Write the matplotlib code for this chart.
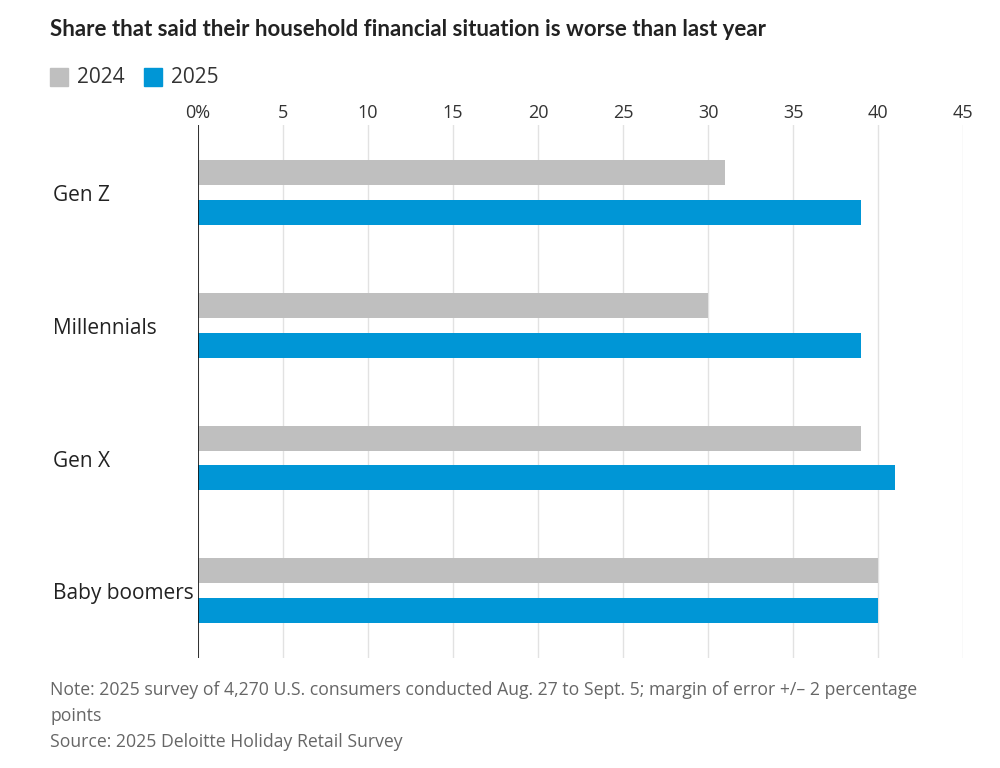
import matplotlib.pyplot as plt
from matplotlib.patches import Rectangle
import numpy as np

categories = ['Gen Z', 'Millennials', 'Gen X', 'Baby boomers']
values_2024 = [31, 30, 39, 40]
values_2025 = [39, 39, 41, 40]
tick_values = [0, 5, 10, 15, 20, 25, 30, 35, 40, 45]
tick_labels = ['0%', '5', '10', '15', '20', '25', '30', '35', '40', '45']

GRAY = '#bfbfbf'
BLUE = '#0096d6'
TEXT = '#222222'
NARROW = ['Open Sans', 'DejaVu Sans']

fig = plt.figure(figsize=(10, 7.68), dpi=100)
ax = fig.add_axes([0.198, 0.143, 0.765, 0.694])

y = np.arange(len(categories))
off = 0.150
h = 0.188
ax.barh(y - off, values_2024, height=h, color=GRAY, zorder=3)
ax.barh(y + off, values_2025, height=h, color=BLUE, zorder=3)

ax.set_xlim(0, 45)
ax.set_ylim(3.5075, -0.5075)
ax.set_xticks(tick_values)
ax.set_xticklabels(tick_labels, fontsize=13, color='#333333', family=NARROW)
ax.xaxis.tick_top()
ax.tick_params(axis='x', length=0, pad=2)
ax.set_yticks([])
ax.grid(axis='x', color='#e2e2e2', linewidth=1, zorder=0)
for s in ax.spines.values():
    s.set_visible(False)
ax.axvline(0, color='#111111', linewidth=1.2, zorder=4)

for i, c in enumerate(categories):
    fig.text(0.053, ax.transData.transform((0, i))[1] / fig.bbox.height - 0.004, c,
             fontsize=15, color=TEXT, va='center', ha='left', family='Open Sans')

fig.text(0.05, 0.961, 'Share that said their household financial situation is worse than last year',
         fontsize=16, fontweight='bold', color=TEXT, va='center', family=['Lato', 'DejaVu Sans'])

# legend
for x0, col, lab in [(0.050, GRAY, '2024'), (0.144, BLUE, '2025')]:
    fig.add_artist(Rectangle((x0, 0.888), 0.018, 0.0235, color=col, transform=fig.transFigure))
    fig.text(x0 + 0.027, 0.899, lab, fontsize=15, color='#333333', va='center', family='Open Sans')

note_kw = dict(fontsize=12.7, color='#666666', va='center', family=NARROW)
fig.text(0.05, 0.101, 'Note: 2025 survey of 4,270 U.S. consumers conducted Aug. 27 to Sept. 5; margin of error +/\u2013 2 percentage', **note_kw)
fig.text(0.05, 0.068, 'points', **note_kw)
fig.text(0.05, 0.034, 'Source: 2025 Deloitte Holiday Retail Survey', **note_kw)

fig.savefig('out.png', dpi=100)
